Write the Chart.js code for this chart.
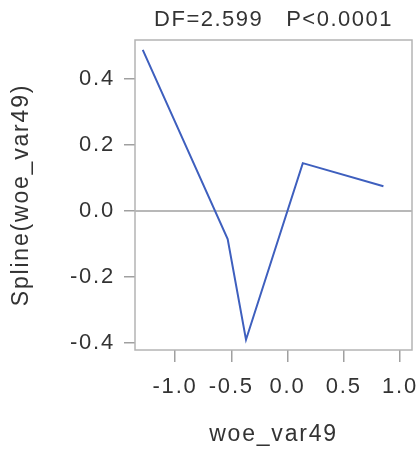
<!DOCTYPE html>
<html>
<head>
<meta charset="utf-8">
<script src="https://cdn.jsdelivr.net/npm/chart.js@4"></script>
<style>
  html, body { margin: 0; padding: 0; background: #fff; }
  #wrap { width: 420px; height: 449px; }
</style>
</head>
<body>
<div id="wrap"><canvas id="spline-chart"></canvas></div>
<script>
// values
const woeX = [-1.287, -0.532, -0.369, 0.136, 0.853];
const splineY = [0.488, -0.085, -0.39, 0.145, 0.075];
const xTicks = [-1.0, -0.5, 0.0, 0.5, 1.0];
const yTicks = [-0.4, -0.2, 0.0, 0.2, 0.4];
const refLineY = 0;
const titleText = "DF=2.599   P<0.0001";

const points = woeX.map((x, i) => ({ x: x, y: splineY[i] }));

const tickFont = { family: "'Liberation Sans', Arial, sans-serif", size: 22 };
const axisFont = { family: "'Liberation Sans', Arial, sans-serif", size: 23 };

// frame, zero line, title and letter spacing
const framePlugin = {
  id: 'frame',
  beforeDraw(chart) {
    chart.ctx.letterSpacing = '1.8px';
  },
  beforeDatasetsDraw(chart) {
    const { ctx, chartArea: a, scales } = chart;
    const y0 = scales.y.getPixelForValue(refLineY);
    ctx.save();
    ctx.strokeStyle = '#a0a0a0';
    ctx.lineWidth = 1.5;
    ctx.beginPath();
    ctx.moveTo(a.left, y0);
    ctx.lineTo(a.right, y0);
    ctx.stroke();
    ctx.restore();
  },
  afterDraw(chart) {
    const { ctx, chartArea: a } = chart;
    ctx.save();
    ctx.strokeStyle = '#b4b4b4';
    ctx.lineWidth = 1.5;
    ctx.strokeRect(a.left, a.top, a.right - a.left, a.bottom - a.top);
    ctx.letterSpacing = '1.5px';
    ctx.fillStyle = '#333';
    ctx.font = "22px 'Liberation Sans', Arial, sans-serif";
    ctx.textAlign = 'center';
    ctx.textBaseline = 'middle';
    ctx.fillText(titleText, (a.left + a.right) / 2, 20);
    ctx.restore();
  }
};

new Chart(document.getElementById("spline-chart"), {
    type: 'scatter',
    data: {
      datasets: [{
          label: "Spline",
          data: points,
          showLine: true,
          borderColor: "rgba(62,95,190,1)",
          borderWidth: 2,
          pointRadius: 0,
          fill: false
        }
      ]
    },
    options: {
      responsive: true,
      maintainAspectRatio: false,
      animation: false,
      layout: { padding: { top: 40, right: 8, left: 0, bottom: 0 } },
      plugins: {
        legend: { display: false },
        title: { display: false },
        tooltip: { enabled: false }
      },
      scales: {
        x: {
          type: 'linear',
          min: -1.356,
          max: 1.107,
          afterBuildTicks: s => { s.ticks = xTicks.map(v => ({ value: v })); },
          afterFit: s => { s.height = 99; s.paddingLeft = 0; s.paddingRight = 0; },
          border: { display: false },
          grid: { drawOnChartArea: false, drawTicks: true, tickLength: 12, color: '#a0a0a0', lineWidth: 1.5 },
          ticks: { font: tickFont, color: '#333', padding: 12, maxRotation: 0,
                   callback: v => v.toFixed(1) },
          title: { display: true, text: 'woe_var49', font: axisFont, color: '#333', padding: { top: 0, bottom: 1 } }
        },
        y: {
          type: 'linear',
          min: -0.421,
          max: 0.518,
          afterBuildTicks: s => { s.ticks = yTicks.map(v => ({ value: v })); },
          afterFit: s => { s.width = 135; s.paddingTop = 0; s.paddingBottom = 0; },
          border: { display: false },
          grid: { drawOnChartArea: false, drawTicks: true, tickLength: 11, color: '#a0a0a0', lineWidth: 1.5 },
          ticks: { font: tickFont, color: '#333', padding: 9,
                   callback: v => v.toFixed(1) },
          title: { display: true, text: 'Spline(woe_var49)', font: axisFont, color: '#333', padding: { top: 8, bottom: 0 } }
        }
      }
    },
    plugins: [framePlugin]
});
</script>
</body>
</html>
